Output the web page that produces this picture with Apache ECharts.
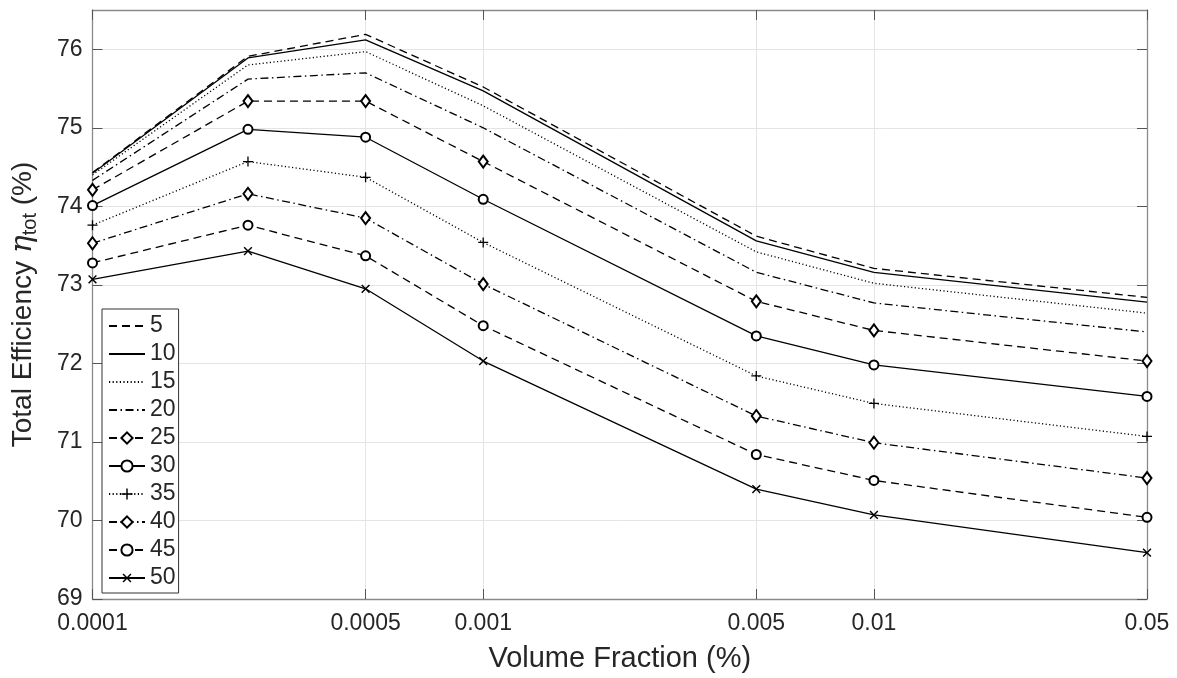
<!DOCTYPE html>
<html>
<head>
<meta charset="utf-8">
<script src="https://cdn.jsdelivr.net/npm/echarts@6/dist/echarts.min.js"></script>
<style>
html,body{margin:0;padding:0;background:#fff;}
#chart{width:1177px;height:678px;}
</style>
</head>
<body>
<div id="chart"></div>
<script>
// ---- data ----
const volumeFractions = [0.0001, 0.00025, 0.0005, 0.001, 0.005, 0.01, 0.05];
const seriesNames = ['5', '10', '15', '20', '25', '30', '35', '40', '45', '50'];
const eff5  = [74.43, 75.91, 76.19, 75.52, 73.62, 73.21, 72.84];
const eff10 = [74.42, 75.89, 76.12, 75.47, 73.56, 73.16, 72.78];
const eff15 = [74.40, 75.80, 75.97, 75.28, 73.42, 73.02, 72.64];
const eff20 = [74.33, 75.62, 75.70, 75.00, 73.16, 72.77, 72.40];
const eff25 = [74.21, 75.34, 75.34, 74.57, 72.79, 72.42, 72.03];
const eff30 = [74.01, 74.98, 74.88, 74.09, 72.35, 71.98, 71.58];
const eff35 = [73.76, 74.57, 74.37, 73.54, 71.84, 71.49, 71.07];
const eff40 = [73.53, 74.16, 73.85, 73.01, 71.33, 70.99, 70.54];
const eff45 = [73.28, 73.76, 73.37, 72.48, 70.84, 70.51, 70.04];
const eff50 = [73.07, 73.43, 72.95, 72.03, 70.40, 70.07, 69.59];
const xTickValues = [0.0001, 0.0005, 0.001, 0.005, 0.01, 0.05];
const xTickLabels = ['0.0001', '0.0005', '0.001', '0.005', '0.01', '0.05'];
const yTickValues = [69, 70, 71, 72, 73, 74, 75, 76];
const yTickLabels = ['69', '70', '71', '72', '73', '74', '75', '76'];

const allSeries = [eff5, eff10, eff15, eff20, eff25, eff30, eff35, eff40, eff45, eff50];

// ---- styles ----
const DASH = [8, 5];
const DOT = [1.2, 2.4];
const DASHDOT = [8, 3.5, 1.5, 3.5];
const PLUS = 'path://M4.35,0H5.65V4.35H10V5.65H5.65V10H4.35V5.65H0V4.35H4.35Z';
const styleDefs = [
  { dash: DASH, symbol: 'none' },
  { dash: 'solid', symbol: 'none' },
  { dash: DOT, symbol: 'none' },
  { dash: DASHDOT, symbol: 'none' },
  { dash: DASH, symbol: 'emptyDiamond', size: [9, 12] },
  { dash: 'solid', symbol: 'emptyCircle', size: 9 },
  { dash: DOT, symbol: PLUS, size: 10, filled: true },
  { dash: DASHDOT, symbol: 'emptyDiamond', size: [9, 12] },
  { dash: DASH, symbol: 'emptyCircle', size: 9 },
  { dash: 'solid', symbol: PLUS, size: 11, filled: true, rotate: 45 }
];

const FONT = 'Liberation Sans';
const TXT = '#262626';
const AXC = '#8a8a8a';

function xLabel(v) {
  let best = 0, bd = Infinity;
  for (let i = 0; i < xTickValues.length; i++) {
    const d = Math.abs(Math.log10(v) - Math.log10(xTickValues[i]));
    if (d < bd) { bd = d; best = i; }
  }
  return xTickLabels[best];
}
function yLabel(v) {
  const i = yTickValues.indexOf(Math.round(v));
  return i >= 0 ? yTickLabels[i] : '';
}

const series = allSeries.map((vals, i) => {
  const s = styleDefs[i];
  return {
    name: seriesNames[i],
    type: 'line',
    data: vals.map((v, j) => [volumeFractions[j], v]),
    symbol: s.symbol,
    symbolSize: s.size || 8,
    symbolRotate: s.rotate || 0,
    showSymbol: s.symbol !== 'none',
    lineStyle: { color: '#000', width: 1.3, type: s.dash },
    itemStyle: { color: '#000', borderColor: '#000', borderWidth: s.filled ? 0 : 1.2 },
    emphasis: { disabled: true },
    animation: false
  };
});

const legendData = seriesNames.map((n, i) => (
  styleDefs[i].symbol === 'none'
    ? { name: n, itemStyle: { opacity: 0 } }
    : { name: n }
));

const chart = echarts.init(document.getElementById('chart'), null, { renderer: 'canvas' });
chart.setOption({
  backgroundColor: '#fff',
  animation: false,
  grid: { left: 92, right: 30, top: 10, bottom: 73, containLabel: false },
  legend: {
    orient: 'vertical',
    left: 102,
    top: 309,
    data: legendData,
    itemWidth: 36,
    itemHeight: 14,
    itemGap: 4,
    padding: [5, 3, 3, 6],
    borderColor: '#333',
    borderWidth: 1,
    borderRadius: 0,
    backgroundColor: '#fff',
    textStyle: { fontSize: 23, color: TXT, fontFamily: FONT, lineHeight: 24 }
  },
  xAxis: [
    {
      type: 'log',
      logBase: 10,
      min: 0.0001,
      max: 0.05,
      position: 'bottom',
      name: 'Volume Fraction (%)',
      nameLocation: 'middle',
      nameGap: 45,
      nameTextStyle: { fontSize: 29, color: TXT, fontFamily: FONT },
      axisLine: { show: true, lineStyle: { color: AXC, width: 1.3 } },
      axisTick: { show: true, inside: true, length: 10, customValues: xTickValues, lineStyle: { color: '#555' } },
      axisLabel: { show: true, customValues: xTickValues, formatter: xLabel, fontSize: 23, color: TXT, fontFamily: FONT, margin: 13 },
      splitLine: { show: true, lineStyle: { color: '#e4e4e4', width: 1 } },
      minorTick: { show: false },
      minorSplitLine: { show: false }
    },
    {
      type: 'log',
      logBase: 10,
      min: 0.0001,
      max: 0.05,
      position: 'top',
      axisLine: { show: true, lineStyle: { color: AXC, width: 1.3 } },
      axisTick: { show: true, inside: true, length: 10, customValues: xTickValues, lineStyle: { color: '#555' } },
      axisLabel: { show: false },
      splitLine: { show: false }
    }
  ],
  yAxis: [
    {
      type: 'value',
      min: 69,
      max: 76.5,
      interval: 1,
      position: 'left',
      name: '{a|Total Efficiency }{e|η}{s|tot}{a| (%)}',
      nameLocation: 'middle',
      nameRotate: 90,
      nameGap: 52,
      nameTextStyle: {
        fontSize: 28, color: TXT, fontFamily: FONT,
        rich: {
          a: { fontSize: 28, color: TXT, fontFamily: FONT },
          e: { fontSize: 30, color: TXT, fontFamily: 'DejaVu Serif', fontStyle: 'italic' },
          s: { fontSize: 20, color: TXT, fontFamily: FONT, padding: [15, 0, 0, 0] }
        }
      },
      axisLine: { show: true, lineStyle: { color: AXC, width: 1.3 } },
      axisTick: { show: true, inside: true, length: 10, customValues: yTickValues, lineStyle: { color: '#555' } },
      axisLabel: { show: true, customValues: yTickValues, formatter: yLabel, fontSize: 23, color: TXT, fontFamily: FONT, margin: 10 },
      splitLine: { show: true, lineStyle: { color: '#e4e4e4', width: 1 } }
    },
    {
      type: 'value',
      min: 69,
      max: 76.5,
      interval: 1,
      position: 'right',
      axisLine: { show: true, lineStyle: { color: AXC, width: 1.3 } },
      axisTick: { show: true, inside: true, length: 10, customValues: yTickValues, lineStyle: { color: '#555' } },
      axisLabel: { show: false },
      splitLine: { show: false }
    }
  ],
  series: series
});
</script>
</body>
</html>
